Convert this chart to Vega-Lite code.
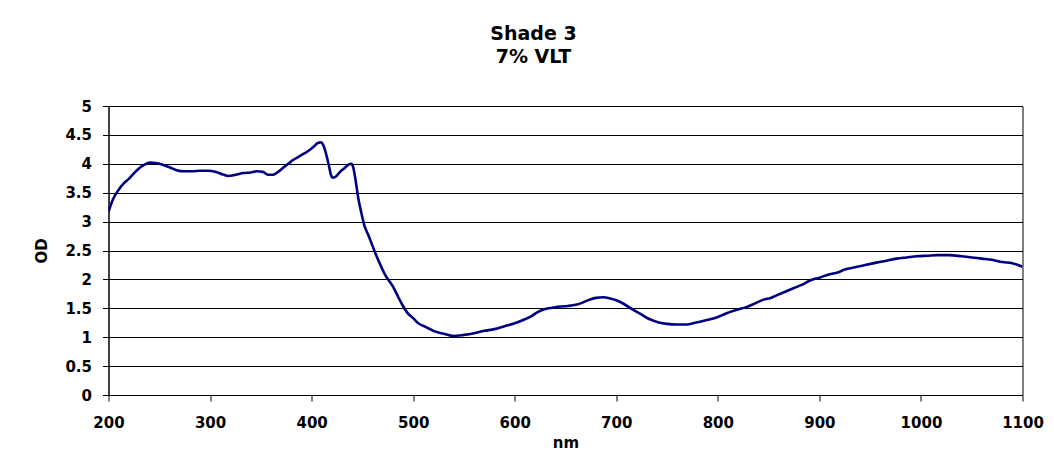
{
  "$schema": "https://vega.github.io/schema/vega-lite/v6.json",
  "autosize": "none",
  "width": 914,
  "height": 289,
  "padding": {"left": 108.5, "top": 106, "right": 31.5, "bottom": 71},
  "background": "white",
  "title": {
    "text": ["Shade 3", "7% VLT"],
    "anchor": "middle",
    "dx": -32,
    "offset": 17,
    "baseline": "alphabetic",
    "font": "DejaVu Sans",
    "fontSize": 19,
    "fontWeight": "bold",
    "lineHeight": 23,
    "color": "black"
  },
  "config": {
    "view": {"stroke": "black", "strokeWidth": 1},
    "axis": {
      "labelFont": "DejaVu Sans",
      "labelFontSize": 15,
      "labelFontWeight": "bold",
      "labelColor": "black",
      "titleFont": "DejaVu Sans",
      "titleFontSize": 15,
      "titleFontWeight": "bold",
      "titleColor": "black",
      "domainColor": "black",
      "tickColor": "black",
      "tickSize": 6
    }
  },
  "data": {
    "values": [
      {"nm": 200, "od": 3.17}, {"nm": 204, "od": 3.37}, {"nm": 210, "od": 3.55}, {"nm": 215, "od": 3.66},
      {"nm": 220, "od": 3.74}, {"nm": 228, "od": 3.89}, {"nm": 235, "od": 3.98}, {"nm": 241, "od": 4.02},
      {"nm": 248, "od": 4.01}, {"nm": 254, "od": 3.98}, {"nm": 260, "od": 3.94}, {"nm": 267, "od": 3.89},
      {"nm": 275, "od": 3.87}, {"nm": 283, "od": 3.87}, {"nm": 290, "od": 3.88}, {"nm": 297, "od": 3.88},
      {"nm": 306, "od": 3.86}, {"nm": 312, "od": 3.82}, {"nm": 318, "od": 3.79}, {"nm": 325, "od": 3.81},
      {"nm": 333, "od": 3.84}, {"nm": 340, "od": 3.85}, {"nm": 346, "od": 3.87}, {"nm": 352, "od": 3.86},
      {"nm": 357, "od": 3.81}, {"nm": 362, "od": 3.81}, {"nm": 367, "od": 3.86}, {"nm": 372, "od": 3.93},
      {"nm": 377, "od": 4.0}, {"nm": 382, "od": 4.07}, {"nm": 387, "od": 4.12}, {"nm": 392, "od": 4.17},
      {"nm": 398, "od": 4.24}, {"nm": 403, "od": 4.31}, {"nm": 406, "od": 4.36}, {"nm": 409, "od": 4.37},
      {"nm": 411, "od": 4.34}, {"nm": 413, "od": 4.25}, {"nm": 415, "od": 4.12}, {"nm": 417, "od": 3.97},
      {"nm": 419, "od": 3.81}, {"nm": 421, "od": 3.76}, {"nm": 424, "od": 3.78}, {"nm": 428, "od": 3.86},
      {"nm": 432, "od": 3.92}, {"nm": 436, "od": 3.98}, {"nm": 439, "od": 4.0}, {"nm": 441, "od": 3.94},
      {"nm": 443, "od": 3.75}, {"nm": 446, "od": 3.4}, {"nm": 449, "od": 3.15}, {"nm": 452, "od": 2.93},
      {"nm": 456, "od": 2.76}, {"nm": 460, "od": 2.58}, {"nm": 464, "od": 2.4}, {"nm": 468, "od": 2.24},
      {"nm": 472, "od": 2.09}, {"nm": 476, "od": 1.98}, {"nm": 480, "od": 1.88}, {"nm": 484, "od": 1.74},
      {"nm": 489, "od": 1.57}, {"nm": 494, "od": 1.43}, {"nm": 500, "od": 1.33}, {"nm": 505, "od": 1.24},
      {"nm": 512, "od": 1.18}, {"nm": 520, "od": 1.11}, {"nm": 530, "od": 1.06}, {"nm": 540, "od": 1.02},
      {"nm": 550, "od": 1.04}, {"nm": 560, "od": 1.07}, {"nm": 570, "od": 1.11}, {"nm": 580, "od": 1.14},
      {"nm": 590, "od": 1.19}, {"nm": 600, "od": 1.24}, {"nm": 610, "od": 1.31}, {"nm": 617, "od": 1.37},
      {"nm": 623, "od": 1.44}, {"nm": 630, "od": 1.49}, {"nm": 637, "od": 1.51}, {"nm": 645, "od": 1.53},
      {"nm": 652, "od": 1.54}, {"nm": 660, "od": 1.56}, {"nm": 667, "od": 1.6}, {"nm": 674, "od": 1.65},
      {"nm": 680, "od": 1.68}, {"nm": 687, "od": 1.69}, {"nm": 694, "od": 1.67}, {"nm": 700, "od": 1.64},
      {"nm": 708, "od": 1.57}, {"nm": 716, "od": 1.48}, {"nm": 725, "od": 1.39}, {"nm": 733, "od": 1.31},
      {"nm": 741, "od": 1.26}, {"nm": 750, "od": 1.23}, {"nm": 760, "od": 1.22}, {"nm": 770, "od": 1.22},
      {"nm": 780, "od": 1.26}, {"nm": 790, "od": 1.3}, {"nm": 800, "od": 1.35}, {"nm": 808, "od": 1.41},
      {"nm": 818, "od": 1.47}, {"nm": 828, "od": 1.52}, {"nm": 836, "od": 1.58}, {"nm": 845, "od": 1.65},
      {"nm": 852, "od": 1.68}, {"nm": 860, "od": 1.74}, {"nm": 868, "od": 1.8}, {"nm": 875, "od": 1.85},
      {"nm": 882, "od": 1.9}, {"nm": 892, "od": 1.99}, {"nm": 900, "od": 2.03}, {"nm": 910, "od": 2.09},
      {"nm": 918, "od": 2.12}, {"nm": 925, "od": 2.17}, {"nm": 935, "od": 2.21}, {"nm": 945, "od": 2.25},
      {"nm": 956, "od": 2.29}, {"nm": 965, "od": 2.32}, {"nm": 976, "od": 2.36}, {"nm": 986, "od": 2.38},
      {"nm": 996, "od": 2.4}, {"nm": 1006, "od": 2.41}, {"nm": 1016, "od": 2.42}, {"nm": 1028, "od": 2.42},
      {"nm": 1040, "od": 2.4}, {"nm": 1050, "od": 2.38}, {"nm": 1060, "od": 2.36}, {"nm": 1070, "od": 2.34},
      {"nm": 1080, "od": 2.3}, {"nm": 1090, "od": 2.28}, {"nm": 1100, "od": 2.22}
    ]
  },
  "mark": {"type": "line", "color": "#000080", "strokeWidth": 2.6, "interpolate": "monotone", "clip": true},
  "encoding": {
    "x": {
      "field": "nm",
      "type": "quantitative",
      "title": "nm",
      "scale": {"domain": [200, 1100], "nice": false, "zero": false},
      "axis": {"values": [200, 300, 400, 500, 600, 700, 800, 900, 1000, 1100], "format": "d", "grid": false, "labelPadding": 14, "titlePadding": 5, "labelFlush": false}
    },
    "y": {
      "field": "od",
      "type": "quantitative",
      "title": "OD",
      "scale": {"domain": [0, 5], "nice": false},
      "axis": {"values": [0, 0.5, 1, 1.5, 2, 2.5, 3, 3.5, 4, 4.5, 5], "labelExpr": "datum.value + ''", "grid": true, "gridColor": "black", "gridOpacity": 1, "labelPadding": 11, "titlePadding": 15}
    }
  }
}
